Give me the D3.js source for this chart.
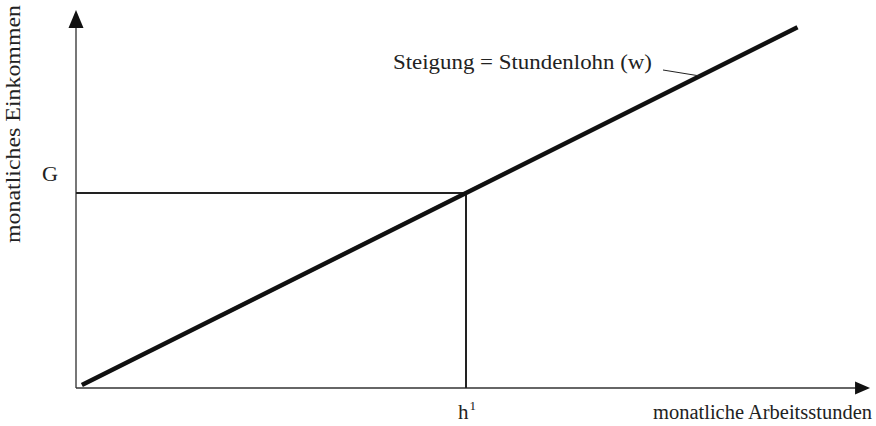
<!DOCTYPE html>
<html>
<head>
<meta charset="utf-8">
<script src="https://cdn.jsdelivr.net/npm/d3@7/dist/d3.min.js"></script>
<style>
html,body{margin:0;padding:0;background:#fff;}
svg{display:block;}
text{font-family:"Liberation Serif","DejaVu Serif",serif;fill:#222;}
</style>
</head>
<body>
<svg id="chart" width="876" height="426"></svg>
<script>
// Data
const wage = [10];                 // Stundenlohn (slope)
const hoursRange = [1.5, 185];     // extent of the income line (hours)
const h1Value = [100];             // marked hours h^1
const GValue = [1000];             // income G at h^1
const xLabels = ["monatliche Arbeitsstunden"];
const yLabels = ["monatliches Einkommen"];
const tickLabels = ["G", "h"];
const annotation = ["Steigung = Stundenlohn (w)"];

const svg = d3.select("#chart");
const x = d3.scaleLinear().domain([0, 200]).range([76, 856]);
const y = d3.scaleLinear().domain([0, 2000]).range([388, -2]);

const w = wage[0];
const xMaxAxis = 203.6, yMaxAxis = 1938;

// axes
svg.append("line").attr("x1", x(0)).attr("y1", y(0)).attr("x2", x(0)).attr("y2", y(yMaxAxis) + 14)
  .attr("stroke", "#555").attr("stroke-width", 1.6);
svg.append("line").attr("x1", x(0)).attr("y1", y(0)).attr("x2", x(xMaxAxis) - 12).attr("y2", y(0))
  .attr("stroke", "#333").attr("stroke-width", 1.6);
// arrowheads
const ty = y(yMaxAxis), tx = x(xMaxAxis);
svg.append("path").attr("d", `M${x(0)},${ty} L${x(0)-7.5},${ty+18} L${x(0)+7.5},${ty+18} Z`).attr("fill", "#111");
svg.append("path").attr("d", `M${tx},${y(0)} L${tx-15},${y(0)-6.5} L${tx-15},${y(0)+6.5} Z`).attr("fill", "#111");

// drop lines
const h1 = h1Value[0], G = GValue[0];
svg.append("line").attr("x1", x(0)).attr("y1", y(G)).attr("x2", x(h1)).attr("y2", y(G))
  .attr("stroke", "#222").attr("stroke-width", 2);
svg.append("line").attr("x1", x(h1)).attr("y1", y(G)).attr("x2", x(h1)).attr("y2", y(0))
  .attr("stroke", "#222").attr("stroke-width", 2);

// income line
const lineGen = d3.line().x(d => x(d)).y(d => y(w * d));
svg.append("path").datum(hoursRange).attr("d", lineGen)
  .attr("stroke", "#111").attr("stroke-width", 4.5).attr("fill", "none");

// leader line
svg.append("line").attr("x1", 663).attr("y1", 70).attr("x2", x(160)).attr("y2", y(w * 160))
  .attr("stroke", "#222").attr("stroke-width", 1);

// texts
svg.append("text").attr("x", 393).attr("y", 69)
  .attr("font-size", 20).attr("textLength", 259).attr("lengthAdjust", "spacingAndGlyphs")
  .text(annotation[0]);
svg.append("text").attr("x", 50).attr("y", 181).attr("text-anchor", "middle")
  .attr("font-size", 21).attr("textLength", 16).attr("lengthAdjust", "spacingAndGlyphs")
  .text(tickLabels[0]);
const ht = svg.append("text").attr("x", x(h1) - 8).attr("y", 419).attr("font-size", 21);
ht.append("tspan").text(tickLabels[1]);
ht.append("tspan").attr("font-size", 13).attr("dy", -9).attr("dx", 1).text("1");
svg.append("text").attr("x", 653).attr("y", 419)
  .attr("font-size", 20).attr("textLength", 219).attr("lengthAdjust", "spacingAndGlyphs")
  .text(xLabels[0]);
svg.append("text").attr("transform", "translate(20,243) rotate(-90)")
  .attr("font-size", 20).attr("textLength", 238).attr("lengthAdjust", "spacingAndGlyphs")
  .text(yLabels[0]);
</script>
</body>
</html>
